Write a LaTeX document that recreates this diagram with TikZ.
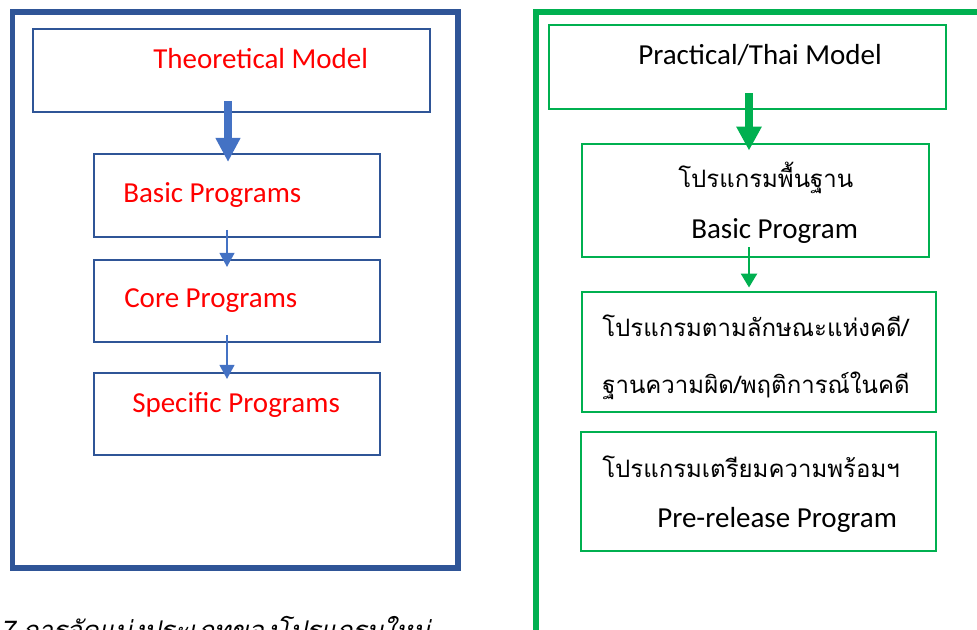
\documentclass[tikz,border=0pt]{standalone}
\usepackage{fontspec}
\setmainfont{Carlito}
\newfontfamily\thaifont[Script=Thai]{Loma}
\newfontfamily\thaiitfont[Script=Thai,FakeSlant=0.2]{Loma}
\usetikzlibrary{arrows.meta}

\definecolor{frameblue}{HTML}{2F5597}
\definecolor{arrowblue}{HTML}{4472C4}
\definecolor{framegreen}{HTML}{00B050}
\definecolor{txtred}{HTML}{FF0000}

\tikzset{
  bluebox/.style={draw=frameblue, line width=1.5pt, inner sep=0pt},
  greenbox/.style={draw=framegreen, line width=2.2pt, inner sep=0pt},
  lbl/.style={inner sep=0pt, anchor=base west, font=\fontsize{21.75}{26}\selectfont},
  thailbl/.style={inner sep=0pt, anchor=base west, font=\fontsize{18}{22}\thaifont},
  bigblue/.style={draw=arrowblue, line width=5.5pt, -{Triangle[width=17.5pt,length=18pt]}},
  thinblue/.style={draw=arrowblue, line width=1.5pt, -{Triangle[width=11pt,length=10.5pt]}},
  biggreen/.style={draw=framegreen, line width=6pt, -{Triangle[width=18pt,length=18pt]}},
  thingreen/.style={draw=framegreen, line width=2pt, -{Triangle[width=12pt,length=10.5pt]}}
}

\begin{document}
\begin{tikzpicture}[x=0.75pt,y=-0.75pt]
\useasboundingbox (0,0) rectangle (977,630);

% left: theoretical model
\draw[frameblue,line width=4pt] (12.5,12) rectangle (458,568);
\node[bluebox,minimum width=297.75pt,minimum height=62.25pt] (theo) at (231.5,70.5) {};
\node[bluebox,minimum width=214.5pt,minimum height=62.25pt] (basicp) at (237,195.5) {};
\node[bluebox,minimum width=214.5pt,minimum height=61.5pt] (corep) at (237,301) {};
\node[bluebox,minimum width=214.5pt,minimum height=61.5pt] (specp) at (237,414) {};

\node[lbl,txtred] (theotxt) at (153,69) {Theoretical Model};
\node[lbl,txtred] (basictxt) at (123,203) {Basic Programs};
\node[lbl,txtred] (coretxt) at (124,308) {Core Programs};
\node[lbl,txtred] (spectxt) at (132,412) {Specific Programs};

\draw[bigblue] ([shift={(-3.5,-12)}]theo.south) -- ([shift={(-9,9)}]basicp.north);
\draw[thinblue] ([shift={(-10,-8)}]basicp.south) -- ([shift={(-10,8)}]corep.north);
\draw[thinblue] ([shift={(-10,-8)}]corep.south) -- ([shift={(-10,7)}]specp.north);

% right: practical / thai model
\draw[framegreen,line width=4.3pt] (536,12) rectangle (1000,700);
\node[greenbox,minimum width=297.75pt,minimum height=63pt] (prac) at (747.5,67) {};
\node[greenbox,minimum width=260.25pt,minimum height=84.75pt] (tbasic) at (755.5,200.5) {};
\node[greenbox,minimum width=265.5pt,minimum height=90pt] (tlegal) at (759,352) {};
\node[greenbox,minimum width=266.25pt,minimum height=89.25pt] (tprep) at (758.5,491.5) {};

\node[lbl] (practxt) at (638,65) {Practical/Thai Model};
\node[thailbl] (tbasicth) at (678,188) {โปรแกรมพื้นฐาน};
\node[lbl] (tbasicen) at (691,239) {Basic Program};
\node[thailbl] (tlegalone) at (602,337) {โปรแกรมตามลักษณะแห่งคดี/};
\node[thailbl] (tlegaltwo) at (602,393) {ฐานความผิด/พฤติการณ์ในคดี};
\node[thailbl] (tprepth) at (602,477) {โปรแกรมเตรียมความพร้อมฯ};
\node[lbl] (tprepen) at (657,527) {Pre-release Program};

\draw[biggreen] ([shift={(1.5,-17)}]prac.south) -- ([shift={(-6.5,8)}]tbasic.north);
\draw[thingreen] ([shift={(-6.5,-11)}]tbasic.south) -- ([shift={(-10,-3)}]tlegal.north);

% caption, cut by the page edge
\node[inner sep=0pt,anchor=base west,font=\fontsize{19.3}{23}\thaiitfont] (caption) at (0,639) {7 การจัดแบ่งประเภทของโปรแกรมใหม่};
\end{tikzpicture}
\end{document}
